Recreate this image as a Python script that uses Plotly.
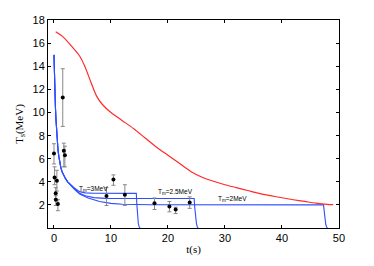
import plotly.graph_objects as go

# Observed events (Kamiokande II times) and inferred temperatures
ev_t = [0, 0.107, 0.303, 0.324, 0.507, 0.686, 1.541, 1.728, 1.915,
        9.219, 10.433, 12.439, 17.641, 20.257, 21.355, 23.814]
ev_T = [6.45, 4.37, 3.0, 2.45, 4.1, 2.08, 11.3, 6.7, 6.3,
        2.78, 4.2, 2.87, 2.14, 1.87, 1.6, 2.2]
ev_hi = [7.3, 5.3, 3.5, 2.8, 5.0, 2.45, 13.8, 7.35, 7.1,
         3.5, 4.6, 3.75, 2.6, 2.3, 1.8, 2.7]
ev_lo = [5.55, 3.75, 2.5, 1.95, 3.2, 1.5, 8.8, 5.3, 5.3,
         1.95, 3.7, 1.95, 1.6, 1.4, 1.25, 1.7]

# Red model curve
red_t = [0.3, 1.5, 3, 4.5, 5.5, 6.5, 7.5, 8.5, 10, 12, 14, 16, 18, 20, 22, 24,
         26, 28, 30, 32, 34, 36, 38, 40, 42, 44, 46, 48, 49]
red_T = [17.0, 16.6, 15.8, 14.9, 13.9, 12.6, 11.4, 10.7, 10.0, 9.3, 8.6, 7.8, 7.0,
         6.3, 5.6, 4.9, 4.4, 4.05, 3.75, 3.5, 3.25, 3.0, 2.8, 2.62, 2.45, 2.3, 2.15, 2.05, 2.02]

# Blue model curves (T_m = 3, 2.5, 2 MeV)
b3_t = [0, 0.05, 0.1, 0.18, 0.25, 0.35, 0.45, 0.57, 0.7, 0.85, 1.0, 1.2, 1.4, 1.7, 2.0, 2.4, 2.8, 3.5, 4.5, 5.5, 7, 14.45, 14.55, 14.65, 14.8, 14.95, 15.1]
b3_T = [15, 13.5, 12.5, 11.3, 10.5, 9.4, 8.5, 7.6, 6.8, 6.2, 5.7, 5.25, 4.9, 4.55, 4.3, 4.0, 3.8, 3.5, 3.15, 3.04, 3.01, 3.0, 2.0, 1.0, 0.4, 0.1, 0]
b25_t = [0, 0.05, 0.1, 0.18, 0.25, 0.35, 0.45, 0.57, 0.7, 0.85, 1.0, 1.2, 1.4, 1.7, 2.0, 2.4, 2.8, 3.5, 4.5, 5.5, 7, 9, 11, 24.6, 24.7, 24.8, 25.0, 25.15, 25.3]
b25_T = [15, 13.5, 12.5, 11.3, 10.5, 9.4, 8.5, 7.6, 6.8, 6.2, 5.7, 5.25, 4.9, 4.55, 4.3, 4.0, 3.8, 3.45, 3.0, 2.8, 2.63, 2.57, 2.56, 2.55, 1.8, 1.0, 0.4, 0.1, 0]
b2_t = [0, 0.05, 0.1, 0.18, 0.25, 0.35, 0.45, 0.57, 0.7, 0.85, 1.0, 1.2, 1.4, 1.7, 2.0, 2.4, 2.8, 3.5, 4.5, 6, 8, 10, 12, 14, 17, 47.3, 47.4, 47.5, 47.7, 47.85, 48]
b2_T = [15, 13.5, 12.5, 11.3, 10.5, 9.4, 8.5, 7.6, 6.8, 6.2, 5.7, 5.25, 4.9, 4.55, 4.3, 4.0, 3.75, 3.4, 2.95, 2.6, 2.3, 2.13, 2.06, 2.03, 2.01, 2.0, 1.5, 0.8, 0.3, 0.08, 0]

labels = ["T<sub>m</sub>=3MeV", "T<sub>m</sub>=2.5MeV", "T<sub>m</sub>=2MeV"]
label_t = [4.0, 17.9, 28.5]
label_T = [3.4, 3.08, 2.55]

x_ticks = [0, 10, 20, 30, 40, 50]
y_ticks = [2, 4, 6, 8, 10, 12, 14, 16, 18]

blue = "#2e4dff"
fig = go.Figure()
for bt, bT in [(b3_t, b3_T), (b25_t, b25_T), (b2_t, b2_T)]:
    fig.add_trace(go.Scatter(x=bt, y=bT, mode="lines", line=dict(color=blue, width=1.1),
                             showlegend=False))
fig.add_trace(go.Scatter(x=red_t, y=red_T, mode="lines",
                         line=dict(color="#ff2a2a", width=1.2, shape="spline", smoothing=0.8),
                         showlegend=False))
fig.add_trace(go.Scatter(
    x=ev_t, y=ev_T, mode="markers",
    marker=dict(color="black", size=4),
    error_y=dict(type="data", symmetric=False,
                 array=[h - v for h, v in zip(ev_hi, ev_T)],
                 arrayminus=[v - l for v, l in zip(ev_T, ev_lo)],
                 color="#888888", thickness=1, width=2),
    showlegend=False))

for txt, lt, lT in zip(labels, label_t, label_T):
    fig.add_annotation(x=lt, y=lT, text=txt, showarrow=False, xanchor="left",
                       font=dict(family="Liberation Sans", size=6.5, color="black"))

axis_common = dict(showline=True, linecolor="black", linewidth=1, mirror="ticks",
                   ticks="inside", ticklen=3, tickcolor="black", showgrid=False,
                   zeroline=False, tickfont=dict(family="Liberation Sans", size=11, color="black"))
fig.update_xaxes(range=[-1.05, 50.02], tickvals=x_ticks, **axis_common,
                 title=dict(text="t(s)", font=dict(family="Liberation Serif", size=11, color="black"), standoff=2))
fig.update_yaxes(range=[0, 18.02], tickvals=y_ticks, **axis_common,
                 title=dict(text="T<sub>s</sub>(MeV)", font=dict(family="Liberation Serif", size=11, color="black"), standoff=6))
fig.update_layout(width=374, height=266, margin=dict(l=48, r=35, t=20, b=30),
                  plot_bgcolor="white", paper_bgcolor="white")
fig.write_html("out.html", config={"displayModeBar": False},
               post_script="document.body.style.margin='0';")
